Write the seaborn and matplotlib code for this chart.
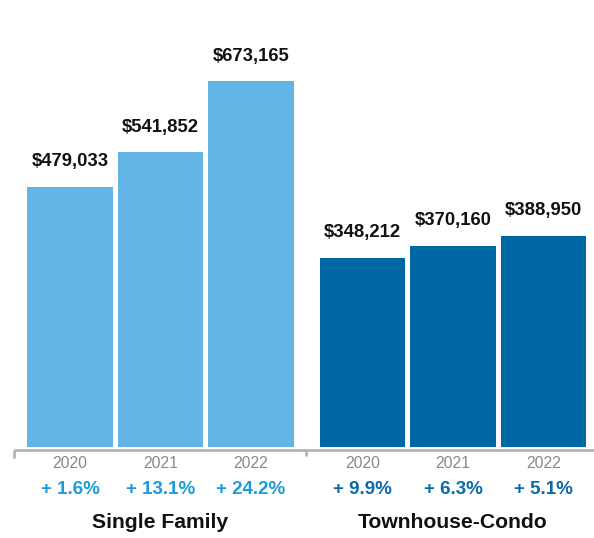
import matplotlib
matplotlib.use("Agg")
import matplotlib.pyplot as plt
import seaborn as sns
import pandas as pd

groups = ["Single Family", "Single Family", "Single Family",
          "Townhouse-Condo", "Townhouse-Condo", "Townhouse-Condo"]
years = ["2020", "2021", "2022", "2020", "2021", "2022"]
values = [479033, 541852, 673165, 348212, 370160, 388950]
changes = ["+ 1.6%", "+ 13.1%", "+ 24.2%", "+ 9.9%", "+ 6.3%", "+ 5.1%"]
group_names = ["Single Family", "Townhouse-Condo"]

positions = [0.0, 1.0, 2.0, 3.232, 4.232, 5.232]
bar_colors = {"Single Family": "#62b5e5", "Townhouse-Condo": "#0067a5"}
pct_colors = {"Single Family": "#1b9bd7", "Townhouse-Condo": "#0a6aa8"}

df = pd.DataFrame({"pos": positions, "value": values, "group": groups})

sns.set_theme(style="white")
plt.rcParams["font.family"] = ["Liberation Sans", "DejaVu Sans"]

W, H = 594, 538
fig = plt.figure(figsize=(W / 100, H / 100), dpi=100)
ax = fig.add_axes([0, 0, 1, 1])

# pixel mapping
x0_px, xs_px = 70.0, 90.5
base_px, top_px = 447.0, 81.0
k = (base_px - top_px) / max(values)


def dx(px):
    return (px - x0_px) / xs_px


def dy(py):
    return (base_px - py) / k


sns.barplot(data=df, x="pos", y="value", hue="group", palette=bar_colors,
            native_scale=True, width=0.94, dodge=False, legend=False,
            errorbar=None, linewidth=0, saturation=1, ax=ax)

ax.set_xlim(dx(0), dx(W))
ax.set_ylim(dy(H), dy(0))
ax.axis("off")

# value labels
for p, v in zip(positions, values):
    ax.text(p, v + 25 / k, f"${v:,}", ha="center", va="center",
            fontsize=13.3, fontweight="bold", color="#111111")

# baseline axis
line_col = "#b5b5b5"
ax.plot([dx(14), dx(W)], [dy(450), dy(450)], color=line_col, lw=2,
        solid_capstyle="butt", clip_on=False)
ax.plot([dx(14), dx(14)], [dy(450), dy(458)], color=line_col, lw=2,
        solid_capstyle="butt")
ax.plot([dx(306), dx(306)], [dy(450), dy(456)], color=line_col, lw=2,
        solid_capstyle="butt")

# year and change labels
for p, yr, ch, g in zip(positions, years, changes, groups):
    ax.text(p, dy(463), yr, ha="center", va="center", fontsize=11.3,
            color="#888888")
    ax.text(p, dy(489), ch, ha="center", va="center", fontsize=13.5,
            fontweight="bold", color=pct_colors[g])

# group labels
for i, g in enumerate(group_names):
    ax.text(positions[i * 3 + 1], dy(522), g, ha="center", va="center",
            fontsize=15.2, fontweight="bold", color="#111111")

fig.savefig("out.png", dpi=100)
